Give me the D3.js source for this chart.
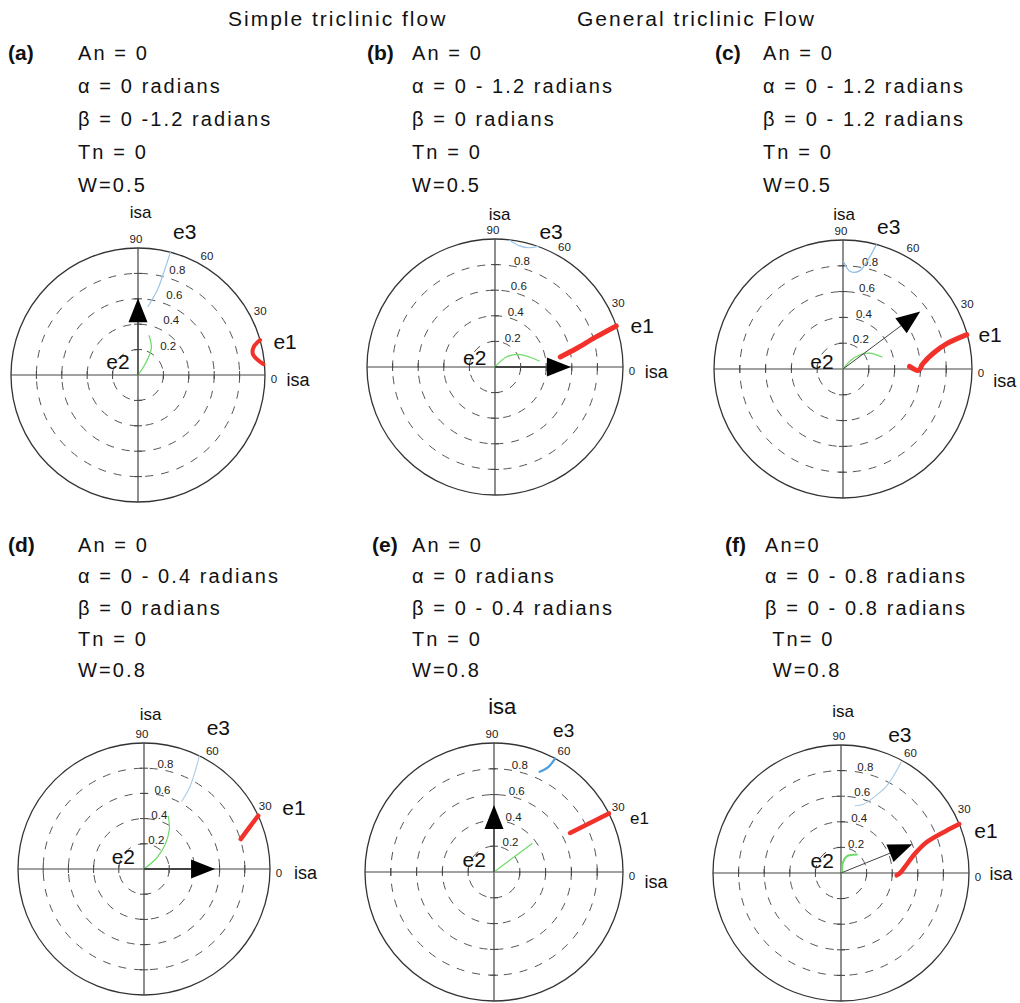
<!DOCTYPE html>
<html>
<head>
<meta charset="utf-8">
<script src="https://cdn.jsdelivr.net/npm/d3@7"></script>
<style>
  body { margin: 0; background: #fff; }
  svg { display: block; font-family: "Liberation Sans", Arial, sans-serif; }
</style>
</head>
<body>
<div id="chart"></div>
<script>
// ---- data ----
const groupTitles = ["Simple triclinic flow", "General triclinic Flow"];
const panelIds = ["(a)", "(b)", "(c)", "(d)", "(e)", "(f)"];
const panelText = [
    ["An = 0", "\u03b1 = 0 radians", "\u03b2 = 0 -1.2 radians", "Tn = 0", "W=0.5"],
    ["An = 0", "\u03b1 = 0 - 1.2 radians", "\u03b2 = 0 radians", "Tn = 0", "W=0.5"],
    ["An = 0", "\u03b1 = 0 - 1.2 radians", "\u03b2 = 0 - 1.2 radians", "Tn = 0", "W=0.5"],
    ["An = 0", "\u03b1 = 0 - 0.4 radians", "\u03b2 = 0 radians", "Tn = 0", "W=0.8"],
    ["An = 0", "\u03b1 = 0 radians", "\u03b2 = 0 - 0.4 radians", "Tn = 0", "W=0.8"],
    ["An=0", "\u03b1 = 0 - 0.8 radians", "\u03b2 = 0 - 0.8 radians", " Tn= 0", " W=0.8"]
];
const radialTicks = [0.2, 0.4, 0.6, 0.8];
const angleTicks = [0, 30, 60, 90];

// paths as [angle in degrees, radius 0-1]
const e1Paths = [
    [[16.0, 1.0], [13.8, 0.94], [10.7, 0.919], [7.7, 0.942], [5.0, 0.99]],
    [[8.7, 0.516], [12.7, 0.648], [16.5, 0.82], [18.7, 1.0]],
    [[2.3, 0.516], [-1.0, 0.586], [3.8, 0.62], [10.0, 0.713], [13.7, 0.828], [15.5, 0.996]],
    [[17.2, 0.804], [21.9, 0.908], [25.0, 1.0]],
    [[27.2, 0.663], [27.0, 1.0]],
    [[-2.4, 0.435], [0, 0.461], [5.4, 0.501], [14.6, 0.596], [19.8, 0.71], [21.9, 0.887], [22.5, 1.0]]
];
const e2Paths = [
    [[60, 0.0], [57.8, 0.124], [63.4, 0.235], [74.3, 0.322]],
    [[40, 0.0], [41.6, 0.118], [28.7, 0.204], [16.2, 0.28], [7.7, 0.35]],
    [[45, 0.0], [45.7, 0.119], [31.9, 0.234], [17.1, 0.316]],
    [[45, 0.0], [41.0, 0.133], [49.1, 0.255], [57.3, 0.372], [65.3, 0.461]],
    [[36.8, 0.0], [36.8, 0.369]],
    [[0, 0.008], [79.3, 0.086], [70.4, 0.14], [49.5, 0.191]]
];
const e3Paths = [
    [[75.2, 1.0], [75.8, 0.855], [77.0, 0.70], [81.7, 0.545]],
    [[83.4, 0.996], [78.6, 0.965], [73.8, 0.97], [70.5, 1.0]],
    [[89.7, 0.834], [85.7, 0.758], [80.4, 0.772], [77.4, 0.854], [75.0, 0.997]],
    [[60.9, 0.616], [60.9, 0.752], [63.9, 1.0]],
    [[65.5, 0.854], [62.6, 0.918], [61.7, 1.0]],
    [[78.1, 0.537], [71.9, 0.566], [66.7, 0.642], [62.3, 0.768], [61.5, 0.985]]
];
// flow direction arrow: [angle, tip radius]
const flowArrows = [[90, 0.605], [0, 0.593], [36.7, 0.747], [0, 0.564], [90, 0.52], [22, 0.60]];

// ---- layout ----
const W = 1020, H = 1003;
const layout = [
    {cx: 138, cy: 375, R: 127, lx: 8,   tx: 78,  ty: 60,  dy: 33},
    {cx: 495, cy: 367, R: 128, lx: 367, tx: 412, ty: 60,  dy: 33},
    {cx: 843, cy: 369, R: 129, lx: 715, tx: 763, ty: 60,  dy: 33},
    {cx: 144, cy: 869, R: 126, lx: 8,   tx: 78,  ty: 552, dy: 31.3},
    {cx: 494, cy: 872, R: 129, lx: 372, tx: 412, ty: 552, dy: 31.3},
    {cx: 841, cy: 873, R: 128, lx: 725, tx: 765, ty: 552, dy: 31.3}
];
// label spots in units of R (x right, y up)
const labelSpots = [
    {e1: [1.158, 0.263], e2: [-0.158, 0.105], e3: [0.368, 1.13],  isaTop: [0.02, 1.28],  isaRight: [1.17, -0.04],  tickDx: 0.31},
    {e1: [1.15, 0.324],  e2: [-0.158, 0.078], e3: [0.438, 1.06],  isaTop: [0.036, 1.19], isaRight: [1.17, -0.04],  tickDx: 0.21},
    {e1: [1.14, 0.266],  e2: [-0.163, 0.059], e3: [0.354, 1.105], isaTop: [0.008, 1.2],  isaRight: [1.165, -0.096], tickDx: 0.21},
    {e1: [1.19, 0.485],  e2: [-0.164, 0.1],   e3: [0.59, 1.125],  isaTop: [0.053, 1.23], isaRight: [1.19, -0.03],  tickDx: 0.17},
    {e1: [1.128, 0.418], e2: [-0.154, 0.097], e3: [0.54, 1.095],  isaTop: [0.064, 1.28], isaRight: [1.167, -0.08], tickDx: 0.2},
    {e1: [1.133, 0.331], e2: [-0.147, 0.098], e3: [0.46, 1.08],   isaTop: [0.016, 1.26], isaRight: [1.16, -0.005], tickDx: 0.19}
];
const styles = [
    {e1w: 4,   e2w: 1.3, e3w: 1.2, e3c: "#9cc6ea", arrowW: 1.2, isaTopSize: 17, e1Size: 21, e3Size: 21},
    {e1w: 5,   e2w: 1.3, e3w: 1.2, e3c: "#9cc6ea", arrowW: 2,   isaTopSize: 17, e1Size: 21, e3Size: 21},
    {e1w: 5,   e2w: 1.3, e3w: 1.3, e3c: "#8fbfe8", arrowW: 1,   isaTopSize: 17, e1Size: 21, e3Size: 21},
    {e1w: 4.5, e2w: 1.2, e3w: 1.1, e3c: "#a9cde9", arrowW: 2,   isaTopSize: 17, e1Size: 21, e3Size: 21},
    {e1w: 4.5, e2w: 1.2, e3w: 2.2, e3c: "#4a9fe2", arrowW: 1.5, isaTopSize: 22, e1Size: 17, e3Size: 19},
    {e1w: 4.5, e2w: 2,   e3w: 1.1, e3c: "#a9cde9", arrowW: 1,   isaTopSize: 17, e1Size: 21, e3Size: 21}
];

const svg = d3.select("#chart").append("svg")
    .attr("width", W)
    .attr("height", H);
svg.append("rect").attr("width", W).attr("height", H).attr("fill", "#fff");

// group titles
svg.append("text").attr("x", 228).attr("y", 26)
    .style("font-size", "21px").style("letter-spacing", "2px").style("fill", "#111")
    .text(groupTitles[0]);
svg.append("text").attr("x", 577).attr("y", 26)
    .style("font-size", "21px").style("letter-spacing", "2px").style("fill", "#111")
    .text(groupTitles[1]);

const rad = d => d * Math.PI / 180;

layout.forEach((L, i) => {
    const S = labelSpots[i], st = styles[i];
    const r = d3.scaleLinear().domain([0, 1]).range([0, L.R]);
    const pt = (a, v) => [r(v) * Math.cos(rad(a)), -r(v) * Math.sin(rad(a))];
    const rel = p => [p[0] * L.R, -p[1] * L.R];

    // parameter text block
    svg.append("text")
        .attr("x", L.lx).attr("y", L.ty)
        .style("font-size", "21px").style("font-weight", "bold").style("fill", "#111")
        .text(panelIds[i]);
    svg.selectAll(null)
        .data(panelText[i])
        .enter()
        .append("text")
        .attr("x", L.tx)
        .attr("y", (d, k) => L.ty + k * L.dy)
        .attr("xml:space", "preserve")
        .style("font-size", "20px")
        .style("letter-spacing", "2.1px")
        .style("fill", "#111")
        .text(d => d);

    const g = svg.append("g").attr("transform", `translate(${L.cx},${L.cy})`);

    // dashed radial rings
    g.selectAll(".ring")
        .data(radialTicks)
        .enter()
        .append("circle")
        .attr("class", "ring")
        .attr("r", d => r(d))
        .attr("fill", "none")
        .attr("stroke", "#555")
        .attr("stroke-width", 1)
        .attr("stroke-dasharray", "8,8");

    // outer circle and cross
    g.append("circle").attr("r", r(1)).attr("fill", "none")
        .attr("stroke", "#333").attr("stroke-width", 1.3);
    g.append("line").attr("x1", -r(1)).attr("x2", r(1))
        .attr("stroke", "#444").attr("stroke-width", 1.2);
    g.append("line").attr("y1", -r(1)).attr("y2", r(1))
        .attr("stroke", "#444").attr("stroke-width", 1.2);

    // small ticks on the cross
    const tickPos = radialTicks.flatMap(d => [d, -d]);
    g.selectAll(".vtick").data(tickPos).enter().append("line")
        .attr("x1", -4).attr("x2", 4)
        .attr("y1", d => -r(d)).attr("y2", d => -r(d))
        .attr("stroke", "#444").attr("stroke-width", 1);
    g.selectAll(".htick").data(tickPos).enter().append("line")
        .attr("y1", -4).attr("y2", 4)
        .attr("x1", d => r(d)).attr("x2", d => r(d))
        .attr("stroke", "#444").attr("stroke-width", 1);

    // radial tick labels
    g.selectAll(".rlabel")
        .data(radialTicks)
        .enter()
        .append("text")
        .attr("x", d => r(S.tickDx + 0.12 * (d - 0.8)))
        .attr("y", d => -r(d + 0.03))
        .attr("text-anchor", "middle")
        .attr("dominant-baseline", "central")
        .style("font-size", "11.5px")
        .style("fill", "#222")
        .text(d => d3.format(".1f")(d));

    // angle labels
    g.selectAll(".alabel")
        .data(angleTicks)
        .enter()
        .append("text")
        .attr("x", d => d === 0 ? r(1) + 9 : d === 90 ? -2 : pt(d === 30 ? 27.5 : 60, 1.085)[0])
        .attr("y", d => d === 0 ? 4 : d === 90 ? -r(1) - 9 : pt(d === 30 ? 27.5 : 60, 1.085)[1])
        .attr("text-anchor", "middle")
        .attr("dominant-baseline", "central")
        .style("font-size", "11.5px")
        .style("fill", "#222")
        .text(d => d);

    // e curves
    const line = d3.lineRadial()
        .angle(d => rad(90 - d[0]))
        .radius(d => r(d[1]))
        .curve(d3.curveCatmullRom.alpha(0.5));
    g.append("path").attr("d", line(e2Paths[i])).attr("fill", "none")
        .attr("stroke", "#6edc66").attr("stroke-width", st.e2w).attr("stroke-linecap", "round");
    g.append("path").attr("d", line(e3Paths[i])).attr("fill", "none")
        .attr("stroke", st.e3c).attr("stroke-width", st.e3w).attr("stroke-linecap", "round");
    g.append("path").attr("d", line(e1Paths[i])).attr("fill", "none")
        .attr("stroke", "#f2312b").attr("stroke-width", st.e1w)
        .attr("stroke-linecap", "round").attr("stroke-linejoin", "round");

    // flow arrow
    const [aAng, aTip] = flowArrows[i];
    const headLen = 24, halfW = 9.5;
    const tip = pt(aAng, aTip);
    const ux = Math.cos(rad(aAng)), uy = -Math.sin(rad(aAng));
    const base = [tip[0] - ux * headLen, tip[1] - uy * headLen];
    g.append("line")
        .attr("x1", 0).attr("y1", 0)
        .attr("x2", base[0]).attr("y2", base[1])
        .attr("stroke", "#444").attr("stroke-width", st.arrowW);
    g.append("path")
        .attr("d", d3.line()([
            tip,
            [base[0] - uy * halfW, base[1] + ux * halfW],
            [base[0] + uy * halfW, base[1] - ux * halfW]
        ]) + "Z")
        .attr("fill", "#000");

    // labels
    [["e1", S.e1, st.e1Size], ["e2", S.e2, 21], ["e3", S.e3, st.e3Size]].forEach(([t, p, fs]) => {
        const q = rel(p);
        g.append("text").attr("x", q[0]).attr("y", q[1])
            .attr("text-anchor", "middle").attr("dominant-baseline", "central")
            .style("font-size", fs + "px").style("fill", "#111")
            .text(t);
    });
    const qt = rel(S.isaTop);
    g.append("text").attr("x", qt[0]).attr("y", qt[1])
        .attr("text-anchor", "middle").attr("dominant-baseline", "central")
        .style("font-size", st.isaTopSize + "px").style("fill", "#111")
        .text("isa");
    const qr = rel(S.isaRight);
    g.append("text").attr("x", qr[0]).attr("y", qr[1])
        .attr("dominant-baseline", "central")
        .style("font-size", "18px").style("fill", "#111")
        .text("isa");
});
</script>
</body>
</html>
